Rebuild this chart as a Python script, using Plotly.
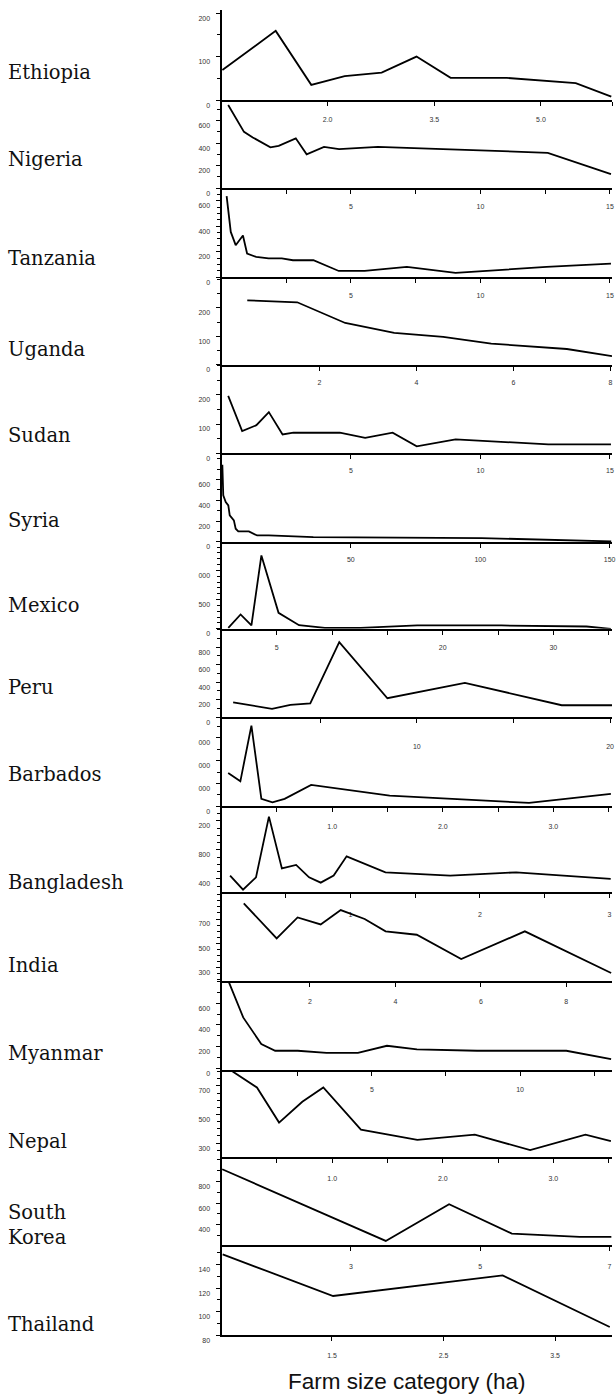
import plotly.graph_objects as go

W, H = 616, 1394
SY = 1 / 0.9935  # vertical page-to-picture calibration

countries = ["Ethiopia", "Nigeria", "Tanzania", "Uganda", "Sudan", "Syria", "Mexico", "Peru",
             "Barbados", "Bangladesh", "India", "Myanmar", "Nepal", "South<br>Korea", "Thailand"]

# ---- data (farm size x, value y) ----
eth_x = [0.52, 1.27, 1.77, 2.24, 2.76, 3.25, 3.73, 4.52, 5.49, 5.99]
eth_y = [69, 159, 35, 55, 63, 100, 51, 51, 39, 8]
nga_x = [0.26, 0.87, 1.21, 1.89, 2.21, 2.87, 3.29, 3.96, 4.54, 6.04, 8.55, 12.6, 15.04]
nga_y = [738, 500, 450, 362, 376, 442, 300, 367, 347, 367, 347, 314, 124]
tza_x = [0.2, 0.36, 0.55, 0.83, 0.99, 1.34, 1.82, 2.33, 2.76, 3.55, 4.53, 5.53, 7.16, 9.04, 12.55, 15.04]
tza_y = [635, 355, 251, 327, 186, 159, 147, 147, 133, 133, 49, 49, 81, 34, 81, 107]
uga_x = [0.51, 1.54, 2.53, 3.54, 4.55, 5.54, 7.1, 8.03]
uga_y = [227, 220, 147, 112, 98, 74, 55, 30]
sdn_x = [0.26, 0.8, 1.35, 1.83, 2.36, 2.78, 3.55, 4.57, 5.55, 6.61, 7.54, 9.04, 12.62, 15.04]
sdn_y = [197, 76, 96, 141, 64, 70, 70, 70, 52, 70, 23, 47, 30, 30]
syr_x = [0.35, 0.7, 1.65, 2.65, 3.2, 4.8, 5.5, 6.5, 10.6, 13.8, 18.3, 35.5, 100.5, 150.6]
syr_y = [742, 447, 383, 351, 255, 207, 127, 101, 101, 62, 62, 46, 37, 5]
mex_x = [0.63, 1.74, 2.72, 3.62, 5.17, 7.02, 9.35, 12.6, 17.7, 25.3, 33.0, 35.2]
mex_y = [17, 245, 57, 1257, 274, 62, 17, 17, 57, 57, 39, 0]
per_x = [0.5, 2.51, 3.46, 4.49, 5.99, 8.48, 12.49, 17.5, 20.1]
per_y = [171, 96, 142, 157, 857, 217, 393, 137, 137]
brb_x = [0.06, 0.17, 0.27, 0.36, 0.46, 0.57, 0.81, 1.52, 2.78, 3.52]
brb_y = [1465, 1096, 3539, 325, 175, 325, 939, 469, 149, 544]
bgd_x = [0.07, 0.17, 0.27, 0.37, 0.47, 0.58, 0.68, 0.77, 0.87, 0.97, 1.27, 1.77, 2.28, 3.01]
bgd_y = [446, 252, 422, 1259, 546, 593, 422, 349, 446, 712, 491, 446, 491, 400]
ind_x = [0.45, 1.22, 1.71, 2.25, 2.72, 3.28, 3.77, 4.5, 5.54, 7.03, 9.05]
ind_y = [829, 540, 713, 655, 774, 700, 598, 570, 369, 598, 254]
mmr_x = [0.18, 0.66, 1.27, 1.74, 2.5, 3.47, 4.53, 5.51, 6.52, 8.55, 11.56, 13.07]
mmr_y = [792, 469, 223, 161, 161, 142, 142, 207, 173, 161, 161, 84]
npl_x = [0.1, 0.32, 0.52, 0.73, 0.92, 1.26, 1.77, 2.29, 2.79, 3.29, 3.52]
npl_y = [801, 689, 444, 589, 689, 395, 323, 360, 251, 360, 314]
kor_x = [1.01, 3.54, 4.52, 5.49, 6.54, 7.03]
kor_y = [914, 250, 590, 318, 287, 287]
tha_x = [0.52, 1.51, 3.03, 3.99]
tha_y = [148.6, 113.3, 130.8, 87]

series = [(eth_x, eth_y), (nga_x, nga_y), (tza_x, tza_y), (uga_x, uga_y), (sdn_x, sdn_y),
          (syr_x, syr_y), (mex_x, mex_y), (per_x, per_y), (brb_x, brb_y), (bgd_x, bgd_y),
          (ind_x, ind_y), (mmr_x, mmr_y), (npl_x, npl_y), (kor_x, kor_y), (tha_x, tha_y)]

# ---- tick values / labels ----
x_tickvals = [[2.0, 3.5, 5.0, 6.0], [2.5, 5, 7.5, 10, 12.5, 15], [2.5, 5, 7.5, 10, 12.5, 15],
              [2, 4, 6, 8], [5, 10, 15], [50, 100, 150], [5, 10, 15, 20, 25, 30, 35],
              [5, 10, 15, 20], [0.5, 1, 1.5, 2, 2.5, 3, 3.5], [0.5, 1, 1.5, 2, 2.5, 3],
              [2, 4, 6, 8], [2.5, 5, 7.5, 10, 12.5], [0.5, 1, 1.5, 2, 2.5, 3, 3.5],
              [3, 5, 7], [1.5, 2.5, 3.5]]
x_ticktext = [["2.0", "3.5", "5.0", ""], ["", "5", "", "10", "", "15"], ["", "5", "", "10", "", "15"],
              ["2", "4", "6", "8"], ["5", "10", "15"], ["50", "100", "150"],
              ["5", "", "", "20", "", "30", ""], ["", "10", "", "20"],
              ["", "1.0", "", "2.0", "", "3.0", ""], ["", "1", "", "2", "", "3"],
              ["2", "4", "6", "8"], ["", "5", "", "10", ""], ["", "1.0", "", "2.0", "", "3.0", ""],
              ["3", "5", "7"], ["1.5", "2.5", "3.5"]]
y_tickvals = [[0, 100, 200], [0, 200, 400, 600], [0, 200, 400, 600], [0, 100, 200], [0, 100, 200],
              [0, 200, 400, 600], [0, 500, 1000], [0, 200, 400, 600, 800], [0, 1000, 2000, 3000],
              [400, 800, 1200], [300, 500, 700], [0, 200, 400, 600], [300, 500, 700],
              [400, 600, 800], [80, 100, 120, 140]]
y_ticktext = [["0", "100", "200"], ["0", "200", "400", "600"], ["0", "200", "400", "600"],
              ["0", "100", "200"], ["0", "100", "200"], ["0", "200", "400", "600"],
              ["0", "500", "000"], ["0", "200", "400", "600", "800"], ["0", "000", "000", "000"],
              ["400", "800", "200"], ["300", "500", "700"], ["0", "200", "400", "600"],
              ["300", "500", "700"], ["400", "600", "800"], ["80", "100", "120", "140"]]

# ---- layout geometry (picture pixels) ----
panel_px = [(10, 100), (100, 188), (188, 277), (277, 364.3), (364.3, 452.7), (452.7, 541.5),
            (541.5, 628.3), (628.3, 716.7), (716.7, 805.7), (805.7, 891.7), (891.7, 980.7),
            (980.7, 1069), (1069, 1156), (1156, 1244.3), (1244.3, 1334.3)]
x_ranges = [[0.508, 6.0], [0.004, 15.08], [0.004, 15.08], [-0.02, 8.03], [0.004, 15.08],
            [0.04, 150.9], [0.02, 35.3], [-0.1, 20.1], [0.0, 3.53], [0.004, 3.02],
            [-0.07, 9.07], [-0.07, 13.1], [0.0, 3.53], [1.0, 7.04], [0.51, 4.01]]
y_ranges = [[0, 207], [0, 782], [0, 698], [0, 308.5], [0, 304.8], [0, 854], [0, 1489],
            [0, 1010], [0, 3904], [215, 1401], [184, 920], [-15, 801], [204, 812.6],
            [210, 1028], [80, 156.3]]
y_minor = [50, 100, 50, 50, 50, 100, 100, 100, 500, 100, 50, 100, 50, 100, 10]
x_standoff = [8, 6, 6, 6, 6, 6, 7, 17, 8, 10, 8, 8, 10, 9, 8]
label_y = [72, 159, 258, 349, 435, 520, 605, 687, 774, 882, 965, 1053, 1141, 1224, 1323]

LEFT = 223.0

fig = go.Figure()
layout = {}
tickfont = dict(family="Liberation Sans, Arial, sans-serif", size=7, color="#333")
for i, ((xs, ys), (top, bot)) in enumerate(zip(series, panel_px)):
    n = "" if i == 0 else str(i + 1)
    fig.add_trace(go.Scatter(x=xs, y=ys, mode="lines", xaxis="x" + n, yaxis="y" + n,
                             line=dict(color="black", width=1.8), showlegend=False,
                             hoverinfo="skip"))
    layout["xaxis" + n] = dict(
        domain=[LEFT / W, 1.0], anchor="y" + n, range=x_ranges[i],
        tickmode="array", tickvals=x_tickvals[i], ticktext=x_ticktext[i],
        ticks="outside", ticklen=4, tickwidth=1.4, tickcolor="black",
        showline=True, linewidth=2, linecolor="black", showgrid=False, zeroline=False,
        tickfont=tickfont, ticklabelstandoff=x_standoff[i],
        ticklabeloverflow="allow", fixedrange=True)
    layout["yaxis" + n] = dict(
        domain=[1 - bot * SY / H, 1 - top * SY / H], anchor="x" + n, range=y_ranges[i],
        tickmode="array", tickvals=y_tickvals[i], ticktext=y_ticktext[i],
        ticks="outside", ticklen=4, tickwidth=1.4, tickcolor="black",
        minor=dict(ticks="outside", ticklen=3, tickwidth=1.2, tickcolor="black",
                   tickmode="linear", tick0=0, dtick=y_minor[i], showgrid=False),
        showline=True, linewidth=2, linecolor="black", showgrid=False, zeroline=False,
        tickfont=tickfont, ticklabelshift=5, ticklabelstandoff=4, ticklabeloverflow="allow",
        fixedrange=True)

annotations = []
for name, ly in zip(countries, label_y):
    annotations.append(dict(text=name, x=6 / W, y=1 - ly * SY / H, xref="paper", yref="paper",
                            xanchor="left", yanchor="middle", showarrow=False, align="left",
                            font=dict(family="DejaVu Serif, serif", size=19.5, color="#111")))
annotations.append(dict(text="Farm size category (ha)", x=410 / W, y=1 - 1380 * SY / H,
                        xref="paper", yref="paper", xanchor="center", yanchor="middle",
                        showarrow=False,
                        font=dict(family="Liberation Sans, Arial, sans-serif", size=22.5, color="#111")))

fig.update_layout(width=W, height=H, margin=dict(l=0, r=0, t=0, b=0, pad=0),
                  paper_bgcolor="white", plot_bgcolor="white",
                  annotations=annotations, **layout)

fig.write_html("out.html", config={"displayModeBar": False},
               post_script=("document.documentElement.style.overflow='hidden';"
                            "document.body.style.margin='0';document.body.style.overflow='hidden';"))
